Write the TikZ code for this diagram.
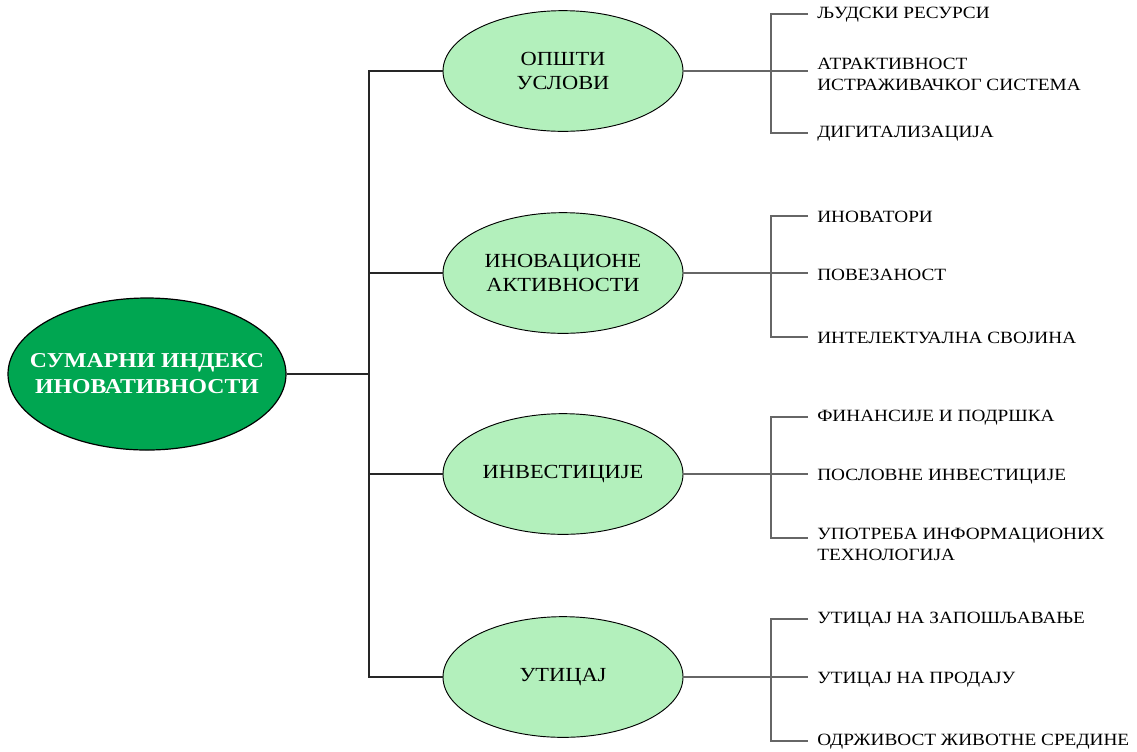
\documentclass[tikz,border=0pt]{standalone}
\usepackage{fontspec}
\setmainfont{Liberation Serif}
\newfontfamily\widefont[FakeStretch=1.12]{Liberation Serif}
\usetikzlibrary{shapes.geometric}
\definecolor{rootgreen}{HTML}{00A651}
\definecolor{palegreen}{HTML}{B3F0BC}
\newcommand{\zw}[1]{\makebox[0pt]{#1}}
\begin{document}
\begin{tikzpicture}[x=0.75pt,y=-0.75pt,
  rootnode/.style={ellipse, draw=black, line width=0.9pt, fill=rootgreen,
    minimum width=208.5pt, minimum height=114pt, inner sep=0pt, align=center,
    text=white, font=\widefont\fontsize{15.9}{19.5}\selectfont\bfseries},
  areanode/.style={ellipse, draw=black, line width=0.7pt, fill=palegreen,
    minimum width=180pt, minimum height=90.5pt, inner sep=0pt, align=center,
    font=\widefont\fontsize{15}{18}\selectfont},
  leaf/.style={anchor=west, inner ysep=0pt, inner xsep=6.75pt, align=left,
    font=\widefont\fontsize{12.9}{15.75}\selectfont},
  trunk/.style={draw=black!85, line width=0.8pt},
  twig/.style={draw=black!60, line width=0.8pt}]
\useasboundingbox (0,0) rectangle (1137,751);

% root and the four areas
\node[rootnode] (root) at (147,374) {\zw{СУМАРНИ ИНДЕКС}\\\zw{ИНОВАТИВНОСТИ}};
\node[areanode] (a1) at (563,71)  {ОПШТИ\\УСЛОВИ};
\node[areanode] (a2) at (563,273) {ИНОВАЦИОНЕ\\АКТИВНОСТИ};
\node[areanode] (a3) at (563,474) {ИНВЕСТИЦИЈЕ};
\node[areanode] (a4) at (563,677) {УТИЦАЈ};

% trunk joining the root to the areas
\coordinate (t0) at (369,374);
\draw[trunk] (root.east) -- (t0);
\draw[trunk] (a1.west) -| (a4.west -| t0) -- (a4.west);
\draw[trunk] (a2.west) -- (a2.west -| t0);
\draw[trunk] (a3.west) -- (a3.west -| t0);

% leaves
\node[leaf] (l11) at (808,15)  {ЉУДСКИ РЕСУРСИ};
\node[leaf] (l12) at (808,74)  {АТРАКТИВНОСТ\\ИСТРАЖИВАЧКОГ СИСТЕМА};
\node[leaf] (l13) at (808,134) {ДИГИТАЛИЗАЦИЈА};

\node[leaf] (l21) at (808,217) {ИНОВАТОРИ};
\node[leaf] (l22) at (808,275) {ПОВЕЗАНОСТ};
\node[leaf] (l23) at (808,338) {ИНТЕЛЕКТУАЛНА СВОЈИНА};

\node[leaf] (l31) at (808,418) {ФИНАНСИЈЕ И ПОДРШКА};
\node[leaf] (l32) at (808,477) {ПОСЛОВНЕ ИНВЕСТИЦИЈЕ};
\node[leaf] (l33) at (808,544) {УПОТРЕБА ИНФОРМАЦИОНИХ\\ТЕХНОЛОГИЈА};

\node[leaf] (l41) at (808,620) {УТИЦАЈ НА ЗАПОШЉАВАЊЕ};
\node[leaf] (l42) at (808,680) {УТИЦАЈ НА ПРОДАЈУ};
\node[leaf] (l43) at (808,742) {ОДРЖИВОСТ ЖИВОТНЕ СРЕДИНЕ};

% brackets from each area to its leaves
\coordinate (b1t) at (771,14);  \coordinate (b1b) at (771,133);
\coordinate (b2t) at (771,216); \coordinate (b2b) at (771,337);
\coordinate (b3t) at (771,417); \coordinate (b3b) at (771,538);
\coordinate (b4t) at (771,619); \coordinate (b4b) at (771,741);

\draw[twig] (b1t -| l11.west) -- (b1t) -- (b1b) -- (b1b -| l13.west);
\draw[twig] (a1.east) -- (a1.east -| b1t) -- (a1.east -| l12.west);

\draw[twig] (b2t -| l21.west) -- (b2t) -- (b2b) -- (b2b -| l23.west);
\draw[twig] (a2.east) -- (a2.east -| b2t) -- (a2.east -| l22.west);

\draw[twig] (b3t -| l31.west) -- (b3t) -- (b3b) -- (b3b -| l33.west);
\draw[twig] (a3.east) -- (a3.east -| b3t) -- (a3.east -| l32.west);

\draw[twig] (b4t -| l41.west) -- (b4t) -- (b4b) -- (b4b -| l43.west);
\draw[twig] (a4.east) -- (a4.east -| b4t) -- (a4.east -| l42.west);
\end{tikzpicture}
\end{document}
